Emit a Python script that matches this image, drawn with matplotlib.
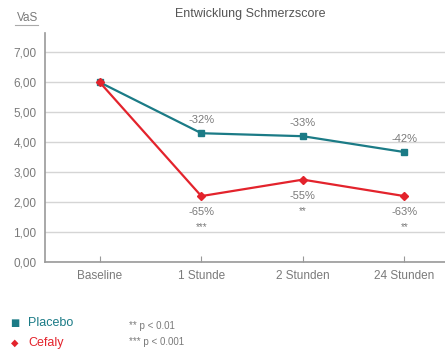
import matplotlib
matplotlib.use("Agg")
import matplotlib.pyplot as plt

plt.rcParams['font.family'] = ['Liberation Sans', 'DejaVu Sans']

zeitpunkte = ["Baseline", "1 Stunde", "2 Stunden", "24 Stunden"]
placebo = [6.0, 4.3, 4.2, 3.67]
cefaly = [6.0, 2.2, 2.75, 2.2]
placebo_pct = ["", "-32%", "-33%", "-42%"]
cefaly_pct = ["", "-65%", "-55%", "-63%"]
cefaly_sig = ["", "***", "**", "**"]
yticks = [0, 1, 2, 3, 4, 5, 6, 7]

teal = "#1b7b86"
red = "#e3232c"
grey = "#7a7a7a"

fig = plt.figure(figsize=(4.45, 3.54), dpi=100)
ax = fig.add_axes([0.101, 0.26, 0.899, 0.647])

x = list(range(len(zeitpunkte)))
ax.plot(x, placebo, color=teal, lw=1.6, marker="s", ms=5, zorder=3)
ax.plot(x, cefaly, color=red, lw=1.6, marker="D", ms=4.5, zorder=4)

for i in x:
    if placebo_pct[i]:
        ax.annotate(placebo_pct[i], (i, placebo[i]), xytext=(0, 6),
                    textcoords="offset points", ha="center", va="bottom",
                    fontsize=8, color=grey)
    if cefaly_pct[i]:
        ax.annotate(cefaly_pct[i], (i, cefaly[i]), xytext=(0, -8),
                    textcoords="offset points", ha="center", va="top",
                    fontsize=8, color=grey)
        ax.annotate(cefaly_sig[i], (i, cefaly[i]), xytext=(0, -19),
                    textcoords="offset points", ha="center", va="top",
                    fontsize=7, color=grey)

ax.set_xlim(-0.54, 3.4)
ax.set_ylim(0, 7.65)
ax.set_xticks(x)
ax.set_xticklabels(zeitpunkte)
ax.set_yticks(yticks)
ax.set_yticklabels([("%.2f" % v).replace(".", ",") for v in yticks])
ax.tick_params(axis="x", direction="in", length=4, color="#999999",
               labelsize=8.5, labelcolor=grey, pad=6)
ax.tick_params(axis="y", length=0, labelsize=8.5, labelcolor=grey, pad=6)
ax.grid(axis="y", color="#d5d5d5", lw=1)
ax.set_axisbelow(True)
for s in ["top", "right"]:
    ax.spines[s].set_visible(False)
for s in ["left", "bottom"]:
    ax.spines[s].set_color("#999999")
    ax.spines[s].set_linewidth(1.2)

fig.text(0.562, 0.96, "Entwicklung Schmerzscore", ha="center", va="center",
         fontsize=9, color="#555555")
fig.text(0.061, 0.949, "VaS", ha="center", va="center", fontsize=8.5,
         color=grey)
fig.add_artist(plt.Line2D([0.034, 0.086], [0.928, 0.928], color="#aaaaaa", lw=0.8))

# legend
fig.text(0.034, 0.087, "\u25a0", ha="center", va="center", fontsize=7,
         color=teal, family="DejaVu Sans")
fig.text(0.064, 0.087, "Placebo", ha="left", va="center", fontsize=9, color=teal)
fig.text(0.034, 0.031, "\u25c6", ha="center", va="center", fontsize=7,
         color=red, family="DejaVu Sans")
fig.text(0.064, 0.031, "Cefaly", ha="left", va="center", fontsize=9, color=red)
fig.text(0.29, 0.078, "** p < 0.01", ha="left", va="center", fontsize=7, color=grey)
fig.text(0.29, 0.034, "*** p < 0.001", ha="left", va="center", fontsize=7, color=grey)

fig.savefig("out.png", dpi=100)
